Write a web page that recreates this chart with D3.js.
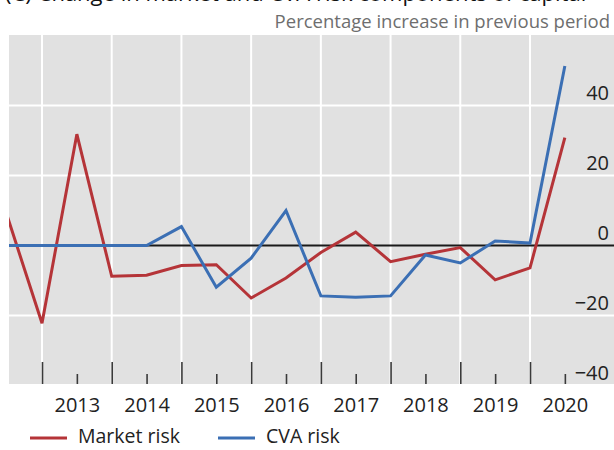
<!DOCTYPE html>
<html><head><meta charset="utf-8">
<script src="https://cdn.jsdelivr.net/npm/d3@7"></script>
<style>
body{margin:0;background:#fff}
svg{display:block;font-family:"Open Sans",sans-serif}
</style>
</head><body>
<svg id="chart" width="614" height="450"></svg>
<script>
// ---- data ----
const periods = [2012.5, 2013.0, 2013.5, 2014.0, 2014.5, 2015.0, 2015.5, 2016.0, 2016.5,
                 2017.0, 2017.5, 2018.0, 2018.5, 2019.0, 2019.5, 2020.0, 2020.5];
const marketRisk = [8.5, -22.2, 31.8, -8.8, -8.5, -5.7, -5.5, -15.0, -9.3,
                    -2.0, 3.8, -4.6, -2.5, -0.6, -9.8, -6.4, 30.8];
const cvaRisk = [0, 0, 0, 0, 0, 5.4, -11.9, -3.6, 10.0,
                 -14.4, -14.8, -14.4, -2.7, -5.0, 1.3, 0.7, 51.3];
const yearLabels = ["2013", "2014", "2015", "2016", "2017", "2018", "2019", "2020"];
const yearBoundaries = [2013, 2014, 2015, 2016, 2017, 2018, 2019, 2020];
const midYears = [2012.5, 2013.5, 2014.5, 2015.5, 2016.5, 2017.5, 2018.5, 2019.5, 2020.5];
const yTickValues = [-40, -20, 0, 20, 40];
const gridValues = [-20, 20, 40];
const seriesNames = ["Market risk", "CVA risk"];
const seriesColors = ["#b53438", "#3b6fb4"];
const titleText = "(C) Change in market and CVA risk components of capital";
const subtitleText = "Percentage increase in previous period";

// ---- layout ----
const plot = {left: 9, right: 614, top: 35, bottom: 384};
const svg = d3.select("#chart");
const x = d3.scaleLinear().domain([2013, 2020]).range([42, 530]);
const y = d3.scaleLinear().domain([-40, 60]).range([385.5, 35.5]);

// title, cut off by the top edge as in the original
svg.append("text").attr("x", 5).attr("y", 1)
  .attr("font-size", 22).attr("fill", "#111").text(titleText);

svg.append("text").attr("x", 610).attr("y", 28)
  .attr("text-anchor", "end").attr("font-size", 18.5).attr("fill", "#6e6e6e")
  .text(subtitleText);

// background
svg.append("rect").attr("x", plot.left).attr("y", plot.top)
  .attr("width", plot.right - plot.left).attr("height", plot.bottom - plot.top)
  .attr("fill", "#e1e1e1");

svg.append("clipPath").attr("id", "clip").append("rect")
  .attr("x", plot.left).attr("y", plot.top)
  .attr("width", plot.right - plot.left).attr("height", plot.bottom - plot.top);

const g = svg.append("g").attr("clip-path", "url(#clip)");

// vertical grid
g.selectAll("line.vg").data(yearBoundaries).join("line")
  .attr("class", "vg")
  .attr("x1", d => x(d)).attr("x2", d => x(d))
  .attr("y1", plot.top).attr("y2", plot.bottom)
  .attr("stroke", "#fff").attr("stroke-width", 2);
// horizontal grid
g.selectAll("line.hg").data(gridValues).join("line")
  .attr("class", "hg")
  .attr("x1", plot.left).attr("x2", plot.right)
  .attr("y1", d => y(d)).attr("y2", d => y(d))
  .attr("stroke", "#fff").attr("stroke-width", 2);

// x ticks (major and minor, pointing up into the plot)
const majorAxis = d3.axisTop(x).tickValues(yearBoundaries).tickSize(22).tickFormat("");
const minorAxis = d3.axisTop(x).tickValues(midYears).tickSize(10).tickFormat("");
[majorAxis, minorAxis].forEach(ax => {
  const a = g.append("g").attr("transform", `translate(0,${plot.bottom})`).call(ax);
  a.select(".domain").remove();
  a.selectAll(".tick line").attr("stroke", "#3a3a3a").attr("stroke-width", 1.6);
});

// zero line
g.append("line").attr("x1", plot.left).attr("x2", plot.right)
  .attr("y1", y(0)).attr("y2", y(0)).attr("stroke", "#1a1a1a").attr("stroke-width", 2);

// series lines
const line = d3.line().x((d, i) => x(periods[i])).y(d => y(d));
[marketRisk, cvaRisk].forEach((s, k) => {
  g.append("path").datum(s).attr("d", line)
    .attr("fill", "none").attr("stroke", seriesColors[k])
    .attr("stroke-width", 3).attr("stroke-linejoin", "miter");
});

// x labels
const xLab = svg.append("g").attr("transform", `translate(0,${plot.bottom})`)
  .call(d3.axisBottom(x).tickValues(midYears.slice(1)).tickSize(0).tickPadding(0)
    .tickFormat((d, i) => yearLabels[i]));
xLab.select(".domain").remove();
xLab.selectAll("text").attr("font-size", 20).attr("fill", "#222")
  .attr("font-family", '"Open Sans",sans-serif').attr("dy", null).attr("y", 28);

// y labels (sitting above gridlines, right side)
svg.selectAll("text.ylab").data(yTickValues).join("text")
  .attr("class", "ylab")
  .attr("x", 609).attr("y", d => y(d) - 6)
  .attr("text-anchor", "end").attr("font-size", 20).attr("fill", "#222")
  .text(d => d3.format("d")(d));

// legend
const legendX = [30, 218];
seriesNames.forEach((n, k) => {
  svg.append("line").attr("x1", legendX[k]).attr("x2", legendX[k] + 37)
    .attr("y1", 438).attr("y2", 438)
    .attr("stroke", seriesColors[k]).attr("stroke-width", 3);
  svg.append("text").attr("x", legendX[k] + 48).attr("y", 443)
    .attr("font-size", 19.5).attr("fill", "#222").text(n);
});
</script>
</body></html>
